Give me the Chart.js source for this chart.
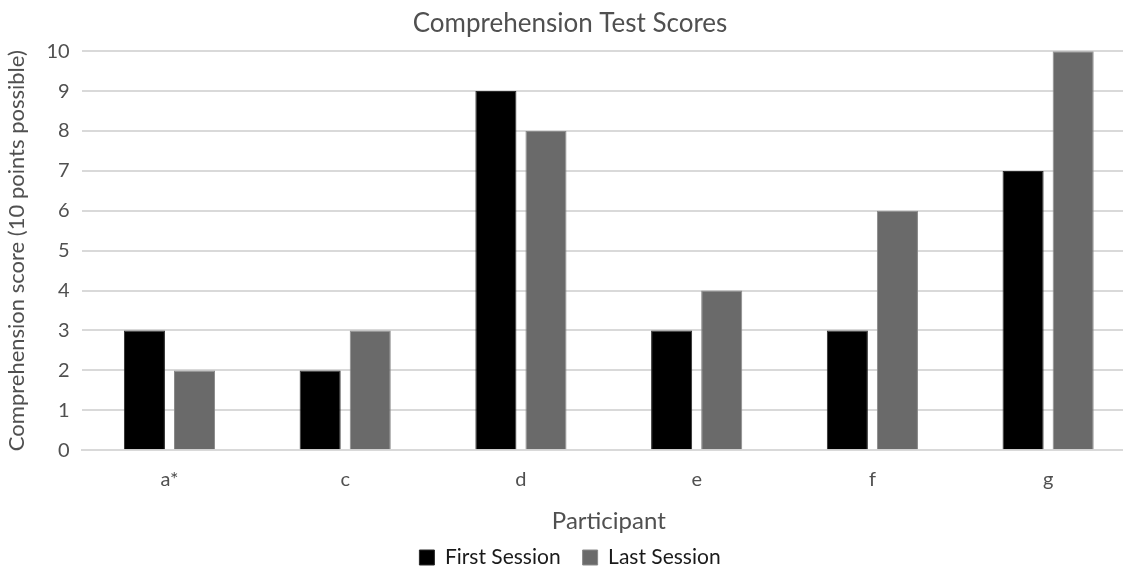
<!DOCTYPE html>
<html><head><meta charset="utf-8">
<script src="https://cdn.jsdelivr.net/npm/chart.js@4"></script>
<style>html,body{margin:0;padding:0;overflow:hidden;background:#fff;width:1123px;height:570px}</style>
</head><body>
<canvas id="c" width="1136" height="570"></canvas>
<script>
const categories = ["a*", "c", "d", "e", "f", "g"];
const firstSession = [3, 2, 9, 3, 3, 7];
const lastSession = [2, 3, 8, 4, 6, 10];
const seriesNames = ["First Session", "Last Session"];
const FONT = "Lato, 'Open Sans', sans-serif";
const TXT = "#505050";
const legendLift = {
  id: 'legendLift',
  afterLayout(chart) {
    if (chart.legend) { chart.legend.top -= 13; }
  }
};
new Chart(document.getElementById('c'), {
  type: 'bar',
  data: {
    labels: categories,
    datasets: [
      {label: seriesNames[0], data: firstSession, backgroundColor: '#000000', borderColor: '#2a2a2a', borderWidth: 1, barPercentage: 0.82, categoryPercentage: 0.57},
      {label: seriesNames[1], data: lastSession, backgroundColor: '#6a6a6a', borderColor: '#8a8a8a', borderWidth: 1, barPercentage: 0.82, categoryPercentage: 0.57}
    ]
  },
  plugins: [legendLift],
  options: {
    responsive: false,
    animation: false,
    layout: {padding: {left: 4, right: 0, top: 6, bottom: 0}},
    plugins: {
      title: {display: true, text: 'Comprehension Test Scores', color: TXT, font: {family: FONT, size: 26, weight: 'normal'}, padding: {top: 2, bottom: 12}},
      legend: {position: 'bottom', maxHeight: 32, labels: {color: '#1a1a1a', font: {family: FONT, size: 21}, boxWidth: 15, boxHeight: 15, padding: 22}},
      tooltip: {enabled: false}
    },
    scales: {
      x: {
        grid: {display: false, drawTicks: false},
        border: {color: '#d9d9d9', width: 2},
        ticks: {color: TXT, font: {family: FONT, size: 20}, padding: 17},
        title: {display: true, text: 'Participant', color: TXT, font: {family: FONT, size: 24}, padding: {top: -1, bottom: 2}}
      },
      y: {
        min: 0, max: 10,
        grid: {color: '#d9d9d9', lineWidth: 2, drawTicks: false},
        border: {display: false},
        ticks: {stepSize: 1, color: TXT, font: {family: FONT, size: 20}, padding: 12},
        title: {display: true, text: 'Comprehension score (10 points possible)', color: TXT, font: {family: FONT, size: 22}, padding: {top: 0, bottom: 4}}
      }
    }
  }
});
</script>
</body></html>
